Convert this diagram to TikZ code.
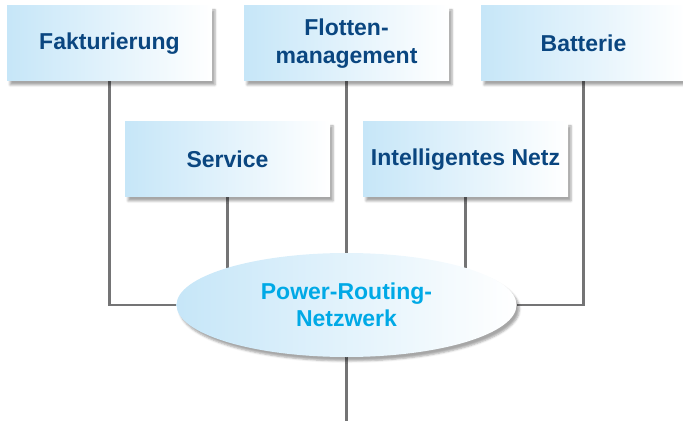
\documentclass[tikz,border=0pt]{standalone}
\usepackage{fontspec}
\setmainfont{Liberation Sans}
\usepackage{xcolor}
\usepackage{tikz}
\usetikzlibrary{shapes.geometric,shadows.blur,backgrounds}

\definecolor{boxblue}{HTML}{C6E6F8}
\definecolor{textblue}{HTML}{0A4680}
\definecolor{routeblue}{HTML}{00A9E6}
\definecolor{linegray}{HTML}{747475}

\tikzset{
  bereich/.style={rectangle, inner sep=0pt, minimum width=205pt, minimum height=75pt,
    left color=boxblue, middle color=boxblue!40, right color=white,
    blur shadow={shadow xshift=3pt, shadow yshift=-4pt, shadow opacity=35},
    text=textblue, align=center, font=\bfseries\fontsize{23}{28}\selectfont},
  netzwerk/.style={ellipse, inner sep=0pt, minimum width=340pt, minimum height=104pt,
    left color=boxblue, middle color=boxblue!40, right color=white,
    blur shadow={shadow xshift=3pt, shadow yshift=-4pt, shadow opacity=35},
    text=routeblue, align=center, font=\bfseries\fontsize{23}{27}\selectfont},
  leitung/.style={draw=linegray, line width=2.1pt}
}

\begin{document}
\begin{tikzpicture}[x=1pt,y=1pt]
\useasboundingbox (0,0) rectangle (683,421);
  \node[bereich]  (F) at (109.5,377.5) {Fakturierung};
  \node[bereich]  (M) at (346.5,377.5) {Flotten-\\management};
  \node[bereich]  (B) at (583.5,377.5) {Batterie};
  \node[bereich]  (S) at (227.5,261.5) {Service};
  \node[bereich]  (I) at (465.5,261.5) {Intelligentes Netz};
  \node[netzwerk] (P) at (346.5,116)   {Power-Routing-\\Netzwerk};
  \coordinate     (E) at (346.5,0);

  \begin{scope}[on background layer]
  \path[leitung]
        (F) |- (P)
        (B) |- (P)
        (M) -- (P)
        (S.south) -- (S |- P)
        (I.south) -- (I |- P)
        (P) -- (E);
  \end{scope}
\end{tikzpicture}
\end{document}
